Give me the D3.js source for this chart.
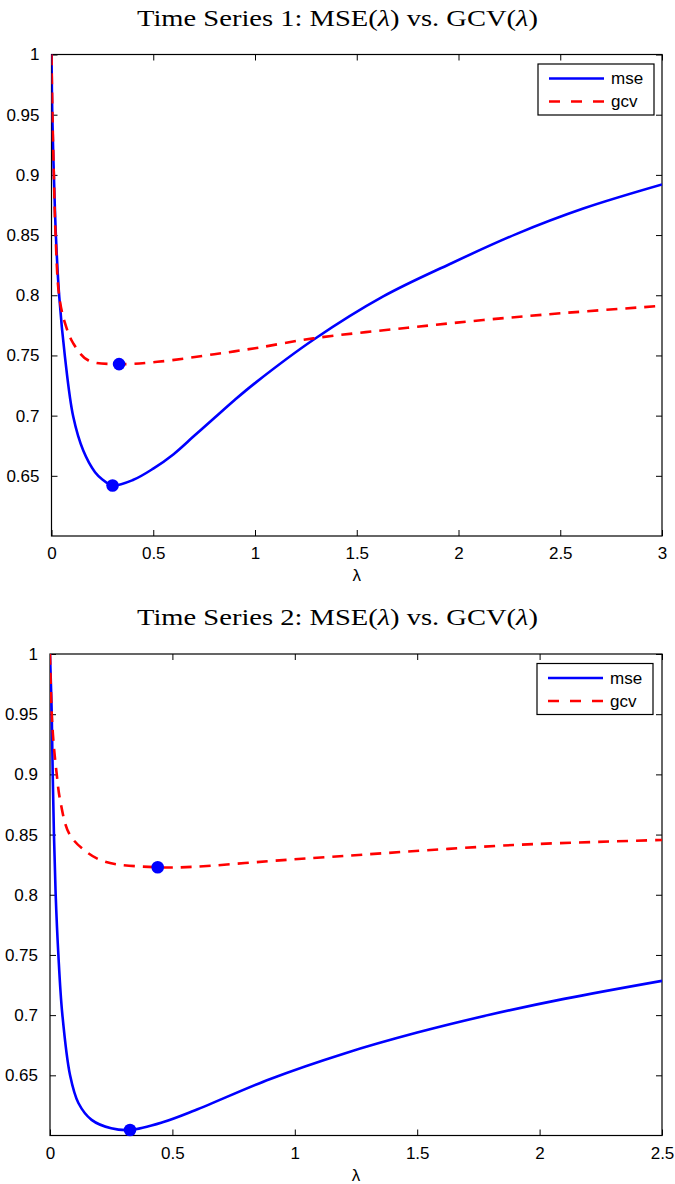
<!DOCTYPE html>
<html><head><meta charset="utf-8">
<script src="https://cdn.jsdelivr.net/npm/d3@7"></script>
<style>body{margin:0;background:#fff}svg{display:block}</style>
</head><body>
<script>
// ---- data ----
const mse1Lambda = [0,0.004,0.012,0.022,0.038,0.066,0.107,0.156,0.214,0.25,0.30,0.40,0.50,0.60,0.70,0.80,0.90,1.0,1.287,1.63,1.958,2.286,2.613,3.0];
const mse1Value  = [1.0,0.948,0.898,0.848,0.799,0.749,0.699,0.671,0.653,0.647,0.642,0.6465,0.656,0.668,0.683,0.698,0.713,0.727,0.763,0.799,0.826,0.851,0.872,0.892];
const gcv1Lambda = [0,0.005,0.012,0.02,0.038,0.066,0.107,0.18,0.332,0.52,0.8,1.0,1.287,1.75,2.122,2.5,3.0];
const gcv1Value  = [1.0,0.948,0.897,0.85,0.799,0.777,0.760,0.746,0.7428,0.7447,0.751,0.756,0.7642,0.773,0.7794,0.785,0.7912];
const mse2Lambda = [0,0.007,0.011,0.016,0.023,0.034,0.05,0.082,0.116,0.17,0.25,0.327,0.46,0.593,0.9,1.2,1.5,1.8,2.1,2.5];
const mse2Value  = [1.0,0.951,0.901,0.851,0.801,0.751,0.7015,0.650,0.627,0.613,0.606,0.6046,0.611,0.621,0.647,0.668,0.6855,0.7005,0.7135,0.7285];
const gcv2Lambda = [0,0.007,0.015,0.027,0.041,0.078,0.14,0.225,0.44,0.593,0.9,1.212,1.893,2.5];
const gcv2Value  = [1.0,0.951,0.925,0.901,0.879,0.851,0.837,0.8274,0.8228,0.8233,0.828,0.8324,0.8413,0.8455];
const minima1 = [{lambda:0.30, value:0.642},{lambda:0.332, value:0.7428}];
const minima2 = [{lambda:0.327, value:0.6046},{lambda:0.44, value:0.8228}];
const yTicks = [0.65,0.7,0.75,0.8,0.85,0.9,0.95,1];
const yTickLabels = ["0.65","0.7","0.75","0.8","0.85","0.9","0.95","1"];
const xTicks1 = [0,0.5,1,1.5,2,2.5,3];
const xTicks2 = [0,0.5,1,1.5,2,2.5];
const seriesNames = ["mse","gcv"];
const titles = ["Time Series 1", "Time Series 2"];

const W = 675, H = 1184;
const svg = d3.select("body").append("svg").attr("width", W).attr("height", H);

function zip(a, b){ return a.map((x,i)=>({lambda:x, value:b[i]})); }

function panel(cfg){
  const {left,right,top,bottom,xMax,xTicks,mseL,mseV,gcvL,gcvV,minima,title,titleY,legend} = cfg;
  const x = d3.scaleLinear().domain([0,xMax]).range([left,right]);
  const y = d3.scaleLinear().domain([0.6,1]).range([bottom,top]);
  const g = svg.append("g");

  // title
  const t = g.append("text").attr("x",(137+538)/2).attr("y",titleY)
    .attr("text-anchor","middle").attr("font-family","'Liberation Serif','DejaVu Serif',serif")
    .attr("font-size",24).attr("fill","#000")
    .attr("textLength",401).attr("lengthAdjust","spacingAndGlyphs");
  t.append("tspan").text(title + ": MSE(");
  t.append("tspan").attr("font-style","italic").text("λ");
  t.append("tspan").text(")  vs.  GCV(");
  t.append("tspan").attr("font-style","italic").text("λ");
  t.append("tspan").text(")");

  const font = "'Liberation Sans',Arial,sans-serif";
  // axes (ticks inward)
  const ax = d3.axisBottom(x).tickValues(xTicks).tickSize(-6).tickPadding(11).tickFormat(d=>String(d));
  const gx = g.append("g").attr("transform",`translate(0,${bottom})`).call(ax);
  const ay = d3.axisLeft(y).tickValues(yTicks).tickSize(-6).tickPadding(12).tickFormat((d,i)=>yTickLabels[i]);
  const gy = g.append("g").attr("transform",`translate(${left},0)`).call(ay);
  const axT = d3.axisTop(x).tickValues(xTicks).tickSize(-6).tickFormat("");
  const gxt = g.append("g").attr("transform",`translate(0,${top})`).call(axT);
  const ayR = d3.axisRight(y).tickValues(yTicks).tickSize(-6).tickFormat("");
  const gyr = g.append("g").attr("transform",`translate(${right},0)`).call(ayR);
  [gx,gy,gxt,gyr].forEach(a=>{
    a.select(".domain").remove();
    a.selectAll("line").attr("stroke","#000").attr("stroke-width",1);
    a.selectAll("text").attr("font-family",font).attr("font-size",17).attr("fill","#000");
  });
  g.append("rect").attr("x",left).attr("y",top).attr("width",right-left).attr("height",bottom-top)
    .attr("fill","none").attr("stroke","#000").attr("stroke-width",1.2);

  // x label
  g.append("text").attr("x",(left+right)/2).attr("y",bottom+45).attr("text-anchor","middle")
    .attr("font-family",font).attr("font-size",17).text("λ");

  const line = d3.line().x(d=>x(d.lambda)).y(d=>y(d.value)).curve(d3.curveCatmullRom.alpha(0.5));
  const clip = "clip"+Math.round(top);
  g.append("clipPath").attr("id",clip).append("rect").attr("x",left).attr("y",top-2).attr("width",right-left).attr("height",bottom-top+4);
  const pg = g.append("g").attr("clip-path",`url(#${clip})`);
  pg.append("path").datum(zip(mseL,mseV)).attr("d",line).attr("fill","none")
    .attr("stroke","#0000ff").attr("stroke-width",2.6);
  pg.append("path").datum(zip(gcvL,gcvV)).attr("d",line).attr("fill","none")
    .attr("stroke","#ff0000").attr("stroke-width",2.6).attr("stroke-dasharray","11,8");
  g.selectAll("circle.m").data(minima).join("circle").attr("class","m")
    .attr("cx",d=>x(d.lambda)).attr("cy",d=>y(d.value)).attr("r",6.3).attr("fill","#0000ff");

  // legend
  const lg = g.append("g");
  lg.append("rect").attr("x",legend.x).attr("y",legend.y).attr("width",116).attr("height",51)
    .attr("fill","#fff").attr("stroke","#000").attr("stroke-width",1.2);
  seriesNames.forEach((n,i)=>{
    const yy = legend.y + 14.5 + i*23;
    lg.append("line").attr("x1",legend.x+11).attr("x2",legend.x+66).attr("y1",yy).attr("y2",yy)
      .attr("stroke", i===0?"#0000ff":"#ff0000").attr("stroke-width",2.6)
      .attr("stroke-dasharray", i===0?null:"11,11");
    lg.append("text").attr("x",legend.x+73).attr("y",yy).attr("dy","0.35em")
      .attr("font-family",font).attr("font-size",17).text(n);
  });
}

panel({left:51.5,right:662,top:54.5,bottom:536,xMax:3,xTicks:xTicks1,mseL:mse1Lambda,mseV:mse1Value,
  gcvL:gcv1Lambda,gcvV:gcv1Value,minima:minima1,title:titles[0],titleY:26,legend:{x:538,y:64}});
panel({left:50,right:662,top:654,bottom:1135.5,xMax:2.5,xTicks:xTicks2,mseL:mse2Lambda,mseV:mse2Value,
  gcvL:gcv2Lambda,gcvV:gcv2Value,minima:minima2,title:titles[1],titleY:625,legend:{x:537,y:663.5}});
</script>
</body></html>
